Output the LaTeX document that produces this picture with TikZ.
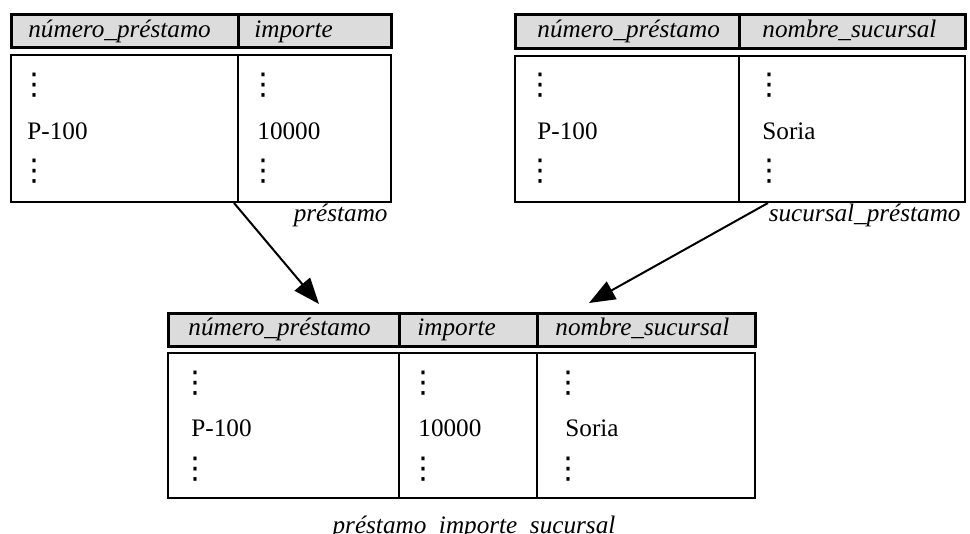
\documentclass[tikz,border=0pt]{standalone}
\usepackage{fontspec}
\setmainfont{Liberation Serif}
\newfontfamily\dvfont{DejaVu Sans}
\usetikzlibrary{arrows.meta}
\definecolor{hgray}{RGB}{220,220,220}
\newcommand{\pxu}{0.5pt}
\newcommand{\vdts}{{\dvfont\fontsize{15}{15}\selectfont ⋮}}
\begin{document}
\begin{tikzpicture}[x=0.5pt,y=-0.5pt,
  every node/.style={font=\fontsize{12.6}{15}\selectfont},
  cell/.style={draw, line width=1pt, inner sep=0pt, anchor=north west},
  hcell/.style={cell, fill=hgray, line width=1.3pt},
  txt/.style={anchor=base west, inner sep=0pt},
  dts/.style={anchor=center, inner sep=0pt},
  arr/.style={line width=1pt, -{Triangle[length=13pt,width=10pt]}}]
\useasboundingbox (0,0) rectangle (970,534);

% ---------- top-left table: préstamo ----------
\node[hcell, minimum width=227*\pxu, minimum height=33*\pxu] (tlh1) at (10,13) {};
\node[hcell, minimum width=153*\pxu, minimum height=33*\pxu] (tlh2) at (237,13) {};
\node[cell, minimum width=227*\pxu, minimum height=147*\pxu] (tlb1) at (10,54) {};
\node[cell, minimum width=153*\pxu, minimum height=147*\pxu] (tlb2) at (237,54) {};
\node[txt] (tlt1) at (28,38) {\textit{número\_préstamo}};
\node[txt] (tlt2) at (254,38) {\textit{importe}};
\node[dts] (tld1) at (34,85) {\vdts};
\node[txt] (tlv1) at (27,140) {P-100};
\node[dts] (tld2) at (34,171) {\vdts};
\node[dts] (tld3) at (263,85) {\vdts};
\node[txt] (tlv2) at (257,140) {10000};
\node[dts] (tld4) at (263,171) {\vdts};
\node[anchor=base east, inner sep=0pt] (cap1) at (388,222) {\textit{préstamo}};

% ---------- top-right table: sucursal_préstamo ----------
\node[hcell, minimum width=224*\pxu, minimum height=34*\pxu] (trh1) at (514,13) {};
\node[hcell, minimum width=226*\pxu, minimum height=34*\pxu] (trh2) at (738,13) {};
\node[cell, minimum width=224*\pxu, minimum height=146*\pxu] (trb1) at (514,55) {};
\node[cell, minimum width=226*\pxu, minimum height=146*\pxu] (trb2) at (738,55) {};
\node[txt] (trt1) at (537,38) {\textit{número\_préstamo}};
\node[txt] (trt2) at (762,38) {\textit{nombre\_sucursal}};
\node[dts] (trd1) at (540,85) {\vdts};
\node[txt] (trv1) at (537,140) {P-100};
\node[dts] (trd2) at (540,171) {\vdts};
\node[dts] (trd3) at (769,85) {\vdts};
\node[txt] (trv2) at (762,140) {Soria};
\node[dts] (trd4) at (769,171) {\vdts};
\node[anchor=base east, inner sep=0pt] (cap2) at (961,222) {\textit{sucursal\_préstamo}};

% ---------- bottom table ----------
\node[hcell, minimum width=231*\pxu, minimum height=33*\pxu] (bh1) at (167,312) {};
\node[hcell, minimum width=138*\pxu, minimum height=33*\pxu] (bh2) at (398,312) {};
\node[hcell, minimum width=218*\pxu, minimum height=33*\pxu] (bh3) at (536,312) {};
\node[cell, minimum width=231*\pxu, minimum height=145*\pxu] (bb1) at (167,352) {};
\node[cell, minimum width=138*\pxu, minimum height=145*\pxu] (bb2) at (398,352) {};
\node[cell, minimum width=218*\pxu, minimum height=145*\pxu] (bb3) at (536,352) {};
\node[txt] (bt1) at (188,336) {\textit{número\_préstamo}};
\node[txt] (bt2) at (417,336) {\textit{importe}};
\node[txt] (bt3) at (555,336) {\textit{nombre\_sucursal}};
\node[dts] (bd1) at (195,383) {\vdts};
\node[txt] (bv1) at (191,437) {P-100};
\node[dts] (bd2) at (195,469) {\vdts};
\node[dts] (bd3) at (423,383) {\vdts};
\node[txt] (bv2) at (418,437) {10000};
\node[dts] (bd4) at (423,469) {\vdts};
\node[dts] (bd5) at (568,383) {\vdts};
\node[txt] (bv3) at (565,437) {Soria};
\node[dts] (bd6) at (568,469) {\vdts};
\node[anchor=base, inner sep=0pt] (cap3) at (474,533) {\textit{préstamo\_importe\_sucursal}};

% ---------- arrows ----------
\draw[arr] ([xshift=-2.5pt]tlb1.south east) -- ([xshift=76pt,yshift=4pt]bh1.north west);
\draw[arr] ([xshift=15pt]trb2.south west) -- ([xshift=26.5pt,yshift=4.5pt]bh3.north west);
\end{tikzpicture}
\end{document}
